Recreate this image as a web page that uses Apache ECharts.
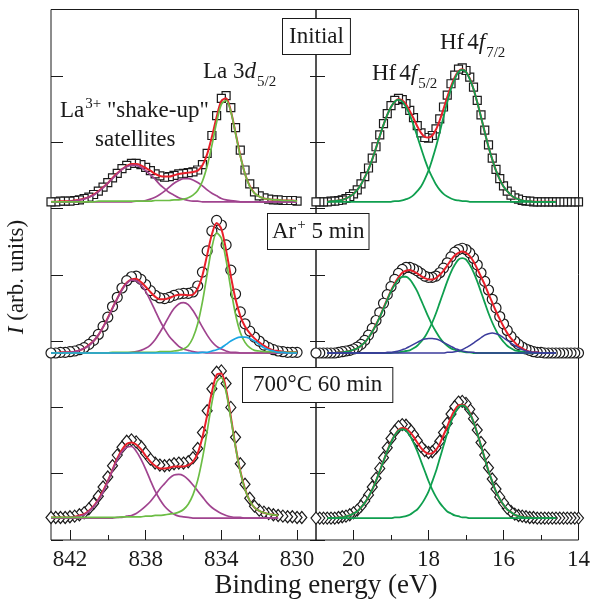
<!DOCTYPE html>
<html><head><meta charset="utf-8">
<script src="https://cdn.jsdelivr.net/npm/echarts@6/dist/echarts.min.js"></script>
<style>html,body{margin:0;padding:0;background:#fff}#c{width:593px;height:600px}</style>
</head><body><div id="c"></div>
<script>
// ---------- x positions (binding energy, eV) ----------
const leftE = [843,842.75,842.5,842.25,842,841.75,841.5,841.25,841,840.75,
 840.5,840.25,840,839.75,839.5,839.25,839,838.75,838.5,838.25,
 838,837.75,837.5,837.25,837,836.75,836.5,836.25,836,835.75,
 835.5,835.25,835,834.75,834.5,834.25,834,833.75,833.5,833.25,
 833,832.75,832.5,832.25,832,831.75,831.5,831.25,831,830.75,
 830.5,830.25,830];
const leftE700 = [...leftE, 829.75];
const rightE = [21,20.9,20.8,20.7,20.6,20.5,20.4,20.3,20.2,20.1,
 20,19.9,19.8,19.7,19.6,19.5,19.4,19.3,19.2,19.1,
 19,18.9,18.8,18.7,18.6,18.5,18.4,18.3,18.2,18.1,
 18,17.9,17.8,17.7,17.6,17.5,17.4,17.3,17.2,17.1,
 17,16.9,16.8,16.7,16.6,16.5,16.4,16.3,16.2,16.1,
 16,15.9,15.8,15.7,15.6,15.5,15.4,15.3,15.2,15.1,
 15,14.9,14.8,14.7,14.6,14.5,14.4,14.3,14.2,14.1,14];
const hfLineE = [20.7,20.6,20.5,20.4,20.3,20.2,20.1,20,19.9,19.8,
 19.7,19.6,19.5,19.4,19.3,19.2,19.1,19,18.9,18.8,
 18.7,18.6,18.5,18.4,18.3,18.2,18.1,18,17.9,17.8,
 17.7,17.6,17.5,17.4,17.3,17.2,17.1,17,16.9,16.8,
 16.7,16.6,16.5,16.4,16.3,16.2,16.1,16,15.9,15.8,
 15.7,15.6,15.5,15.4,15.3,15.2,15.1,15,14.9,14.8,
 14.7,14.6];

// ---------- tick labels ----------
const laMajorTicks = [830,834,838,842];
const laMinorTicks = [832,836,840];
const hfMajorTicks = [14,16,18,20];
const hfMinorTicks = [15,17,19];

// ---------- La 3d, Initial ----------
const laInitData = [5.10,5.10,5.11,5.11,5.11,5.12,5.13,5.15,5.17,5.21,
 5.26,5.32,5.39,5.46,5.53,5.60,5.65,5.68,5.68,5.66,
 5.62,5.57,5.52,5.49,5.47,5.48,5.50,5.52,5.53,5.54,
 5.55,5.58,5.66,5.83,6.10,6.40,6.66,6.70,6.52,6.22,
 5.88,5.58,5.37,5.25,5.19,5.16,5.14,5.13,5.13,5.12,
 5.12,5.12,5.11];
const laInitFit = [5.10,5.10,5.11,5.11,5.11,5.12,5.13,5.15,5.17,5.21,
 5.26,5.32,5.38,5.46,5.53,5.59,5.64,5.67,5.67,5.65,
 5.61,5.57,5.52,5.49,5.48,5.48,5.50,5.52,5.53,5.54,
 5.55,5.57,5.65,5.82,6.08,6.38,6.62,6.66,6.47,6.14,
 5.80,5.52,5.34,5.23,5.18,5.15,5.14,5.13,5.13,5.12,
 5.12,5.12,5.11];
const laInitSat1 = [5.10,5.10,5.10,5.10,5.11,5.11,5.13,5.14,5.17,5.20,
 5.25,5.31,5.38,5.45,5.52,5.59,5.63,5.65,5.65,5.62,
 5.57,5.51,5.44,5.36,5.30,5.24,5.20,5.16,5.14,5.12,
 5.11,5.11,5.10,5.10,5.10,5.10,5.10,5.10,5.10,5.10,
 5.10,5.10,5.10,5.10,5.10,5.10,5.10,5.10,5.10,5.10,
 5.10,5.10,5.10];
const laInitSat2 = [5.10,5.10,5.10,5.10,5.10,5.10,5.10,5.10,5.10,5.10,
 5.10,5.10,5.10,5.10,5.10,5.10,5.10,5.10,5.11,5.11,
 5.12,5.14,5.17,5.21,5.26,5.32,5.38,5.42,5.45,5.45,
 5.43,5.39,5.34,5.28,5.23,5.19,5.15,5.13,5.12,5.11,
 5.10,5.10,5.10,5.10,5.10,5.10,5.10,5.10,5.10,5.10,
 5.10,5.10,5.10];
const laInitMain = [5.10,5.10,5.10,5.10,5.10,5.10,5.10,5.10,5.10,5.10,
 5.11,5.11,5.11,5.11,5.11,5.11,5.11,5.11,5.11,5.11,
 5.11,5.11,5.12,5.12,5.12,5.12,5.13,5.13,5.14,5.16,
 5.20,5.27,5.41,5.64,5.95,6.30,6.57,6.63,6.46,6.13,
 5.79,5.52,5.33,5.23,5.18,5.15,5.14,5.13,5.13,5.12,
 5.12,5.12,5.11];

// ---------- La 3d, Ar+ 5 min ----------
const laArData = [2.82,2.82,2.83,2.83,2.84,2.85,2.87,2.90,2.95,3.01,
 3.10,3.22,3.36,3.52,3.66,3.80,3.91,3.97,3.98,3.93,
 3.85,3.76,3.69,3.65,3.64,3.66,3.69,3.71,3.72,3.72,
 3.74,3.83,4.04,4.36,4.66,4.82,4.75,4.45,4.07,3.71,
 3.44,3.26,3.15,3.06,3.00,2.94,2.90,2.87,2.85,2.84,
 2.83,2.83,2.83];
const laArFit = [2.82,2.82,2.83,2.83,2.83,2.84,2.86,2.89,2.94,3.00,
 3.09,3.21,3.35,3.50,3.64,3.78,3.88,3.93,3.94,3.89,
 3.82,3.74,3.67,3.63,3.63,3.65,3.68,3.70,3.70,3.69,
 3.70,3.79,3.99,4.30,4.61,4.78,4.69,4.37,3.98,3.63,
 3.38,3.22,3.12,3.04,2.98,2.93,2.89,2.86,2.85,2.84,
 2.83,2.83,2.83];
const laArSat1 = [2.82,2.82,2.82,2.83,2.83,2.84,2.86,2.89,2.93,3.00,
 3.09,3.21,3.34,3.49,3.64,3.77,3.87,3.92,3.91,3.85,
 3.75,3.61,3.46,3.31,3.18,3.07,2.99,2.92,2.88,2.86,
 2.84,2.83,2.83,2.82,2.82,2.82,2.82,2.82,2.82,2.82,
 2.82,2.82,2.82,2.82,2.82,2.82,2.82,2.82,2.82,2.82,
 2.82,2.82,2.82];
const laArSat2 = [2.82,2.82,2.82,2.82,2.82,2.82,2.82,2.82,2.82,2.82,
 2.82,2.82,2.82,2.82,2.82,2.82,2.82,2.83,2.84,2.86,
 2.89,2.94,3.02,3.13,3.25,3.38,3.49,3.56,3.58,3.55,
 3.46,3.34,3.21,3.09,2.99,2.92,2.88,2.85,2.83,2.83,
 2.82,2.82,2.82,2.82,2.82,2.82,2.82,2.82,2.82,2.82,
 2.82,2.82,2.82];
const laArMain = [2.82,2.82,2.82,2.82,2.82,2.82,2.82,2.82,2.82,2.82,
 2.82,2.82,2.82,2.83,2.83,2.83,2.83,2.83,2.83,2.83,
 2.83,2.83,2.83,2.84,2.84,2.84,2.85,2.86,2.88,2.93,
 3.05,3.26,3.59,4.01,4.41,4.63,4.55,4.22,3.79,3.40,
 3.13,2.98,2.90,2.86,2.85,2.84,2.84,2.84,2.83,2.83,
 2.83,2.83,2.83];
const laArLow = [2.82,2.82,2.82,2.82,2.82,2.82,2.82,2.82,2.82,2.82,
 2.82,2.82,2.82,2.82,2.82,2.82,2.82,2.82,2.82,2.82,
 2.82,2.82,2.82,2.82,2.82,2.82,2.82,2.82,2.82,2.82,
 2.82,2.82,2.83,2.83,2.85,2.87,2.90,2.95,3.00,3.04,
 3.06,3.06,3.04,3.00,2.95,2.90,2.87,2.85,2.83,2.83,
 2.82,2.82,2.82];

// ---------- La 3d, 700 °C 60 min ----------
const la700Data = [0.34,0.34,0.34,0.34,0.35,0.36,0.38,0.41,0.47,0.55,
 0.66,0.80,0.95,1.12,1.28,1.40,1.49,1.51,1.48,1.41,
 1.31,1.22,1.16,1.13,1.12,1.13,1.15,1.16,1.16,1.18,
 1.24,1.38,1.62,1.95,2.28,2.53,2.55,2.36,2.00,1.55,
 1.15,0.84,0.63,0.51,0.45,0.42,0.40,0.38,0.37,0.36,
 0.35,0.35,0.34,0.34];
const la700Fit = [0.34,0.34,0.34,0.34,0.34,0.35,0.37,0.39,0.44,0.51,
 0.61,0.74,0.89,1.06,1.23,1.36,1.45,1.47,1.44,1.37,
 1.27,1.18,1.12,1.08,1.08,1.09,1.11,1.11,1.11,1.13,
 1.18,1.31,1.55,1.88,2.23,2.49,2.51,2.27,1.86,1.41,
 1.04,0.77,0.59,0.49,0.44,0.41,0.39,0.38,0.37];
const la700Sat1 = [0.33,0.33,0.33,0.33,0.34,0.34,0.36,0.38,0.43,0.50,
 0.60,0.72,0.88,1.05,1.21,1.33,1.40,1.41,1.34,1.22,
 1.07,0.90,0.74,0.61,0.51,0.44,0.39,0.36,0.35,0.34,
 0.33,0.33,0.33,0.33,0.33,0.33,0.33,0.33,0.33,0.33,
 0.33,0.33,0.33,0.33,0.33,0.33,0.33,0.33,0.33];
const la700Sat2 = [0.33,0.33,0.33,0.33,0.33,0.33,0.33,0.33,0.33,0.33,
 0.33,0.33,0.33,0.33,0.34,0.34,0.36,0.37,0.40,0.45,
 0.51,0.58,0.67,0.77,0.85,0.93,0.98,0.99,0.97,0.91,
 0.83,0.74,0.65,0.56,0.49,0.44,0.40,0.37,0.35,0.34,
 0.34,0.33,0.33,0.33,0.33,0.33,0.33,0.33,0.33];
const la700Main = [0.34,0.34,0.34,0.34,0.34,0.34,0.34,0.34,0.34,0.34,
 0.34,0.34,0.34,0.34,0.34,0.35,0.35,0.35,0.35,0.35,
 0.36,0.36,0.37,0.37,0.38,0.39,0.40,0.42,0.46,0.54,
 0.68,0.90,1.23,1.64,2.07,2.38,2.45,2.23,1.83,1.40,
 1.03,0.76,0.59,0.49,0.44,0.41,0.39,0.38,0.37];

// ---------- Hf 4f, Initial ----------
const hfInitData = [5.10,5.10,5.10,5.10,5.11,5.11,5.12,5.13,5.15,5.18,
 5.22,5.28,5.37,5.48,5.61,5.76,5.93,6.11,6.28,6.43,
 6.55,6.63,6.66,6.64,6.58,6.48,6.37,6.25,6.14,6.07,
 6.06,6.10,6.20,6.35,6.53,6.71,6.88,7.01,7.10,7.12,
 7.08,6.98,6.83,6.63,6.41,6.18,5.96,5.76,5.59,5.45,
 5.34,5.26,5.20,5.16,5.14,5.12,5.11,5.11,5.10,5.10,
 5.10,5.10,5.10,5.10,5.10,5.10,5.10,5.10,5.10,5.10,5.10];
const hfInitFit = [5.10,5.11,5.11,5.12,5.13,5.15,5.18,5.22,5.28,5.36,
 5.47,5.59,5.74,5.91,6.09,6.26,6.41,6.53,6.61,6.65,
 6.63,6.57,6.47,6.36,6.24,6.14,6.08,6.07,6.10,6.19,
 6.33,6.50,6.68,6.84,6.98,7.07,7.10,7.06,6.96,6.80,
 6.60,6.38,6.15,5.93,5.74,5.57,5.44,5.33,5.26,5.20,
 5.16,5.14,5.12,5.11,5.11,5.10,5.10,5.10,5.10,5.10,
 5.10,5.10];
const hfInitF52 = [5.10,5.11,5.11,5.12,5.13,5.15,5.18,5.22,5.28,5.36,
 5.47,5.59,5.74,5.91,6.09,6.26,6.41,6.53,6.61,6.64,
 6.61,6.53,6.41,6.26,6.09,5.91,5.74,5.59,5.47,5.36,
 5.28,5.22,5.18,5.15,5.13,5.12,5.11,5.11,5.10,5.10,
 5.10,5.10,5.10,5.10,5.10,5.10,5.10,5.10,5.10,5.10,
 5.10,5.10,5.10,5.10,5.10,5.10,5.10,5.10,5.10,5.10,
 5.10,5.10];
const hfInitF72 = [5.10,5.10,5.10,5.10,5.10,5.10,5.10,5.10,5.10,5.10,
 5.10,5.10,5.10,5.10,5.10,5.10,5.10,5.10,5.11,5.11,
 5.12,5.14,5.16,5.20,5.26,5.33,5.44,5.57,5.74,5.93,
 6.15,6.38,6.60,6.80,6.95,7.06,7.09,7.06,6.95,6.80,
 6.60,6.38,6.15,5.93,5.74,5.57,5.44,5.33,5.26,5.20,
 5.16,5.14,5.12,5.11,5.11,5.10,5.10,5.10,5.10,5.10,
 5.10,5.10];

// ---------- Hf 4f, Ar+ 5 min ----------
const hfArData = [2.82,2.82,2.82,2.82,2.82,2.82,2.83,2.84,2.85,2.86,
 2.88,2.91,2.95,3.01,3.09,3.19,3.31,3.43,3.57,3.70,
 3.82,3.93,4.02,4.08,4.11,4.11,4.09,4.06,4.02,3.98,
 3.96,3.96,3.98,4.03,4.10,4.18,4.27,4.34,4.38,4.40,
 4.38,4.33,4.25,4.15,4.03,3.90,3.77,3.63,3.50,3.37,
 3.26,3.16,3.07,3.00,2.95,2.91,2.88,2.86,2.84,2.83,
 2.83,2.82,2.82,2.82,2.82,2.82,2.82,2.82,2.82,2.82,2.82];
const hfArFit = [2.82,2.82,2.82,2.83,2.83,2.84,2.85,2.87,2.89,2.93,
 2.98,3.05,3.14,3.25,3.36,3.50,3.63,3.76,3.87,3.96,
 4.03,4.06,4.07,4.05,4.02,3.98,3.95,3.93,3.93,3.95,
 4.00,4.06,4.14,4.22,4.29,4.33,4.35,4.33,4.28,4.20,
 4.09,3.97,3.85,3.71,3.58,3.45,3.33,3.22,3.12,3.04,
 2.98,2.92,2.89,2.86,2.84,2.83,2.83,2.82,2.82,2.82,
 2.82,2.82];
const hfArF52 = [2.82,2.82,2.82,2.83,2.83,2.84,2.85,2.87,2.89,2.93,
 2.98,3.05,3.14,3.24,3.36,3.49,3.62,3.75,3.85,3.93,
 3.97,3.97,3.93,3.85,3.75,3.62,3.49,3.36,3.24,3.14,
 3.05,2.98,2.93,2.89,2.87,2.85,2.84,2.83,2.83,2.82,
 2.82,2.82,2.82,2.82,2.82,2.82,2.82,2.82,2.82,2.82,
 2.82,2.82,2.82,2.82,2.82,2.82,2.82,2.82,2.82,2.82,
 2.82,2.82];
const hfArF72 = [2.82,2.82,2.82,2.82,2.82,2.82,2.82,2.82,2.82,2.82,
 2.82,2.82,2.82,2.82,2.82,2.82,2.82,2.82,2.83,2.83,
 2.84,2.85,2.86,2.89,2.93,2.99,3.06,3.16,3.28,3.42,
 3.58,3.74,3.90,4.04,4.15,4.23,4.25,4.23,4.15,4.04,
 3.90,3.74,3.58,3.42,3.28,3.16,3.06,2.99,2.93,2.89,
 2.86,2.85,2.84,2.83,2.83,2.82,2.82,2.82,2.82,2.82,
 2.82,2.82];
const hfArSub52 = [2.82,2.82,2.82,2.82,2.82,2.82,2.82,2.82,2.82,2.82,
 2.82,2.82,2.82,2.82,2.82,2.82,2.83,2.83,2.84,2.85,
 2.87,2.89,2.92,2.95,2.98,3.01,3.03,3.04,3.04,3.03,
 3.01,2.98,2.95,2.92,2.89,2.87,2.85,2.84,2.83,2.83,
 2.82,2.82,2.82,2.82,2.82,2.82,2.82,2.82,2.82,2.82,
 2.82,2.82,2.82,2.82,2.82,2.82,2.82,2.82,2.82,2.82,
 2.82,2.82];
const hfArSub72 = [2.82,2.82,2.82,2.82,2.82,2.82,2.82,2.82,2.82,2.82,
 2.82,2.82,2.82,2.82,2.82,2.82,2.82,2.82,2.82,2.82,
 2.82,2.82,2.82,2.82,2.82,2.82,2.82,2.82,2.82,2.82,
 2.82,2.82,2.83,2.83,2.84,2.85,2.87,2.90,2.93,2.97,
 3.01,3.05,3.09,3.11,3.12,3.11,3.09,3.05,3.01,2.97,
 2.93,2.90,2.87,2.85,2.84,2.83,2.83,2.82,2.82,2.82,
 2.82,2.82];

// ---------- Hf 4f, 700 °C 60 min ----------
const hf700Data = [0.33,0.33,0.33,0.33,0.33,0.33,0.34,0.35,0.36,0.38,
 0.41,0.45,0.51,0.59,0.68,0.80,0.93,1.08,1.24,1.39,
 1.53,1.64,1.71,1.74,1.73,1.67,1.59,1.50,1.41,1.35,
 1.32,1.33,1.39,1.49,1.62,1.76,1.90,2.01,2.08,2.09,
 2.06,1.97,1.83,1.66,1.47,1.28,1.09,0.92,0.77,0.65,
 0.56,0.48,0.43,0.39,0.37,0.36,0.35,0.34,0.34,0.33,
 0.33,0.33,0.33,0.33,0.33,0.33,0.33,0.33,0.33,0.33,0.33];
const hf700Fit = [0.33,0.33,0.33,0.34,0.34,0.36,0.37,0.40,0.43,0.49,
 0.56,0.65,0.76,0.89,1.04,1.19,1.34,1.48,1.58,1.66,
 1.69,1.68,1.63,1.56,1.47,1.39,1.33,1.30,1.31,1.36,
 1.45,1.58,1.71,1.85,1.96,2.03,2.04,2.01,1.92,1.78,
 1.61,1.42,1.23,1.04,0.88,0.73,0.62,0.53,0.46,0.42,
 0.38,0.36,0.35,0.34,0.34,0.33,0.33,0.33,0.33,0.33,
 0.33,0.33];
const hf700F52 = [0.33,0.33,0.33,0.34,0.34,0.36,0.37,0.40,0.43,0.49,
 0.56,0.65,0.76,0.89,1.04,1.19,1.34,1.47,1.58,1.65,
 1.67,1.65,1.58,1.47,1.34,1.19,1.04,0.89,0.76,0.65,
 0.56,0.49,0.43,0.40,0.37,0.36,0.34,0.34,0.33,0.33,
 0.33,0.33,0.33,0.33,0.33,0.33,0.33,0.33,0.33,0.33,
 0.33,0.33,0.33,0.33,0.33,0.33,0.33,0.33,0.33,0.33,
 0.33,0.33];
const hf700F72 = [0.33,0.33,0.33,0.33,0.33,0.33,0.33,0.33,0.33,0.33,
 0.33,0.33,0.33,0.33,0.33,0.33,0.33,0.33,0.34,0.34,
 0.35,0.36,0.38,0.42,0.46,0.53,0.62,0.73,0.88,1.04,
 1.23,1.42,1.61,1.78,1.91,2.00,2.03,2.00,1.91,1.78,
 1.61,1.42,1.23,1.04,0.88,0.73,0.62,0.53,0.46,0.42,
 0.38,0.36,0.35,0.34,0.34,0.33,0.33,0.33,0.33,0.33,
 0.33,0.33];

// ---------- styling ----------
const FONT = "'Liberation Serif','Times New Roman',serif";
const INK = '#1a1a1a';
const RED = '#e8202a', LAGREEN = '#6cbd45', PURPLE = '#a0448f', CYAN = '#1aa6e4',
      HFGREEN = '#0f9f4f', NAVY = '#3b3b9c';

function pairs(xs, ys) { return ys.map((y, i) => [xs[i], y]); }
function markers(xs, ys, symbol, size, g) {
  return { type: 'scatter', xAxisIndex: g * 2, yAxisIndex: g === 0 ? 0 : 2,
    data: pairs(xs, ys).reverse(), symbol: symbol, symbolSize: size, silent: true, z: 2,
    itemStyle: { color: '#fff', borderColor: INK, borderWidth: 1.2, opacity: 1 } };
}
function curve(xs, ys, color, width, g, z) {
  return { type: 'line', xAxisIndex: g * 2, yAxisIndex: g === 0 ? 0 : 2,
    data: pairs(xs, ys), showSymbol: false, symbol: 'none', silent: true, smooth: 0.3,
    lineStyle: { color: color, width: width }, z: z };
}

const series = [
  markers(leftE, laInitData, 'rect', 8, 0),
  curve(leftE, laInitFit, RED, 2, 0, 3),
  curve(leftE, laInitSat1, PURPLE, 1.7, 0, 4),
  curve(leftE, laInitSat2, PURPLE, 1.7, 0, 4),
  curve(leftE, laInitMain, LAGREEN, 1.7, 0, 4),

  markers(leftE, laArData, 'circle', 10, 0),
  curve(leftE, laArFit, RED, 2, 0, 3),
  curve(leftE, laArSat1, PURPLE, 1.7, 0, 4),
  curve(leftE, laArSat2, PURPLE, 1.7, 0, 4),
  curve(leftE, laArMain, LAGREEN, 1.7, 0, 4),
  curve(leftE, laArLow, CYAN, 1.7, 0, 4),

  markers(leftE700, la700Data, 'diamond', [10, 12], 0),
  curve(leftE, la700Fit, RED, 2, 0, 3),
  curve(leftE, la700Sat1, PURPLE, 1.7, 0, 4),
  curve(leftE, la700Sat2, PURPLE, 1.7, 0, 4),
  curve(leftE, la700Main, LAGREEN, 1.7, 0, 4),

  markers(rightE, hfInitData, 'rect', 8, 1),
  curve(hfLineE, hfInitFit, RED, 2, 1, 3),
  curve(hfLineE, hfInitF52, HFGREEN, 1.8, 1, 4),
  curve(hfLineE, hfInitF72, HFGREEN, 1.8, 1, 4),

  markers(rightE, hfArData, 'circle', 10, 1),
  curve(hfLineE, hfArFit, RED, 2, 1, 3),
  curve(hfLineE, hfArF52, HFGREEN, 1.8, 1, 4),
  curve(hfLineE, hfArF72, HFGREEN, 1.8, 1, 4),
  curve(hfLineE, hfArSub52, NAVY, 1.5, 1, 4),
  curve(hfLineE, hfArSub72, NAVY, 1.5, 1, 4),

  markers(rightE, hf700Data, 'diamond', [10, 12], 1),
  curve(hfLineE, hf700Fit, RED, 2, 1, 3),
  curve(hfLineE, hf700F52, HFGREEN, 1.8, 1, 4),
  curve(hfLineE, hf700F72, HFGREEN, 1.8, 1, 4)
];

function xMain(g, min, max, ticks) {
  return { gridIndex: g, type: 'value', min: min, max: max, inverse: true, position: 'bottom',
    axisLine: { show: false },
    axisTick: { show: true, inside: true, length: 10, customValues: ticks, lineStyle: { color: INK, width: 1 } },
    axisLabel: { show: true, customValues: ticks, fontSize: 23, fontFamily: FONT, color: INK, margin: 8,
      showMinLabel: true, showMaxLabel: true },
    splitLine: { show: false } };
}
function xMinor(g, min, max, ticks) {
  return { gridIndex: g, type: 'value', min: min, max: max, inverse: true, position: 'bottom',
    axisLine: { show: false },
    axisTick: { show: true, inside: true, length: 5, customValues: ticks, lineStyle: { color: INK, width: 1 } },
    axisLabel: { show: false }, splitLine: { show: false } };
}
function yAx(g, pos, len) {
  return { gridIndex: g, type: 'value', min: 0, max: 8, interval: 1, position: pos,
    axisLine: { show: false },
    axisTick: { show: len > 0, inside: true, length: len, lineStyle: { color: INK, width: 1 } },
    axisLabel: { show: false }, splitLine: { show: false } };
}

const subRich = { fontFamily: FONT, fontSize: 15, fill: INK, padding: [20, 0, 0, 1] };
const option = {
  animation: false,
  backgroundColor: '#fff',
  grid: [
    { left: 51, top: 9.5, width: 265, height: 530.5, show: true, borderColor: INK, borderWidth: 1, backgroundColor: 'transparent' },
    { left: 316, top: 9.5, width: 265, height: 530.5, show: true, borderColor: INK, borderWidth: 1, backgroundColor: 'transparent' }
  ],
  xAxis: [
    xMain(0, 829, 843, laMajorTicks), xMinor(0, 829, 843, laMinorTicks),
    xMain(1, 14, 21, hfMajorTicks), xMinor(1, 14, 21, hfMinorTicks)
  ],
  yAxis: [ yAx(0, 'left', 12), yAx(0, 'right', 6), yAx(1, 'left', 9) ],
  series: series,
  graphic: [
    { type: 'text', left: 282, top: 18, z: 100,
      style: { text: 'Initial', fontFamily: FONT, fontSize: 23, fill: INK, lineHeight: 26,
        backgroundColor: '#fff', borderColor: INK, borderWidth: 1, padding: [5, 6, 4, 6] } },
    { type: 'text', left: 267, top: 213, z: 100,
      style: { text: '{a|Ar}{s|+}{a| 5 min}', lineHeight: 26, fill: INK, fontFamily: FONT, fontSize: 23,
        backgroundColor: '#fff', borderColor: INK, borderWidth: 1, padding: [5, 4, 4, 4],
        rich: { a: { fontFamily: FONT, fontSize: 23, fill: INK },
                s: { fontFamily: FONT, fontSize: 15, fill: INK, padding: [0, 0, 14, 1] } } } },
    { type: 'text', left: 242, top: 367, z: 100,
      style: { text: '700°C 60 min', fontFamily: FONT, fontSize: 23, fill: INK, lineHeight: 26,
        backgroundColor: '#fff', borderColor: INK, borderWidth: 1, padding: [4, 10, 4, 10] } },
    { type: 'text', left: 203, top: 58, z: 100,
      style: { text: '{a|La 3}{i|d}{s|5/2}', lineHeight: 28, fill: INK,
        rich: { a: { fontFamily: FONT, fontSize: 23, fill: INK },
                i: { fontFamily: FONT, fontSize: 23, fontStyle: 'italic', fill: INK },
                s: subRich } } },
    { type: 'text', left: 60, top: 97, z: 100,
      style: { text: '{a|La}{s|3+}{a| "shake-up"}', lineHeight: 28, fill: INK,
        rich: { a: { fontFamily: FONT, fontSize: 23, fill: INK },
                s: { fontFamily: FONT, fontSize: 15, fill: INK, padding: [0, 0, 13, 1] } } } },
    { type: 'text', left: 95, top: 126, z: 100,
      style: { text: 'satellites', fontFamily: FONT, fontSize: 23, fill: INK, lineHeight: 28 } },
    { type: 'text', left: 372, top: 60, z: 100,
      style: { text: '{h|Hf}{a|4}{i|f}{s|5/2}', lineHeight: 28, fill: INK,
        rich: { h: { fontFamily: FONT, fontSize: 23, fill: INK, padding: [0, 3, 0, 0] },
                a: { fontFamily: FONT, fontSize: 23, fill: INK },
                i: { fontFamily: FONT, fontSize: 23, fontStyle: 'italic', fill: INK },
                s: subRich } } },
    { type: 'text', left: 440, top: 29, z: 100,
      style: { text: '{h|Hf}{a|4}{i|f}{s|7/2}', lineHeight: 28, fill: INK,
        rich: { h: { fontFamily: FONT, fontSize: 23, fill: INK, padding: [0, 3, 0, 0] },
                a: { fontFamily: FONT, fontSize: 23, fill: INK },
                i: { fontFamily: FONT, fontSize: 23, fontStyle: 'italic', fill: INK },
                s: subRich } } },
    { type: 'text', x: 326, y: 586, z: 100,
      style: { text: 'Binding energy (eV)', fontFamily: FONT, fontSize: 27, fill: INK,
        align: 'center', verticalAlign: 'middle' } },
    { type: 'text', x: 17, y: 277, rotation: Math.PI / 2, z: 100,
      style: { text: '{i|I} (arb. units)', fontFamily: FONT, fontSize: 23, fill: INK,
        align: 'center', verticalAlign: 'middle',
        rich: { i: { fontFamily: FONT, fontSize: 23, fontStyle: 'italic', fill: INK } } } }
  ]
};
const chart = echarts.init(document.getElementById('c'), null, { renderer: 'canvas' });
chart.setOption(option);
</script></body></html>
